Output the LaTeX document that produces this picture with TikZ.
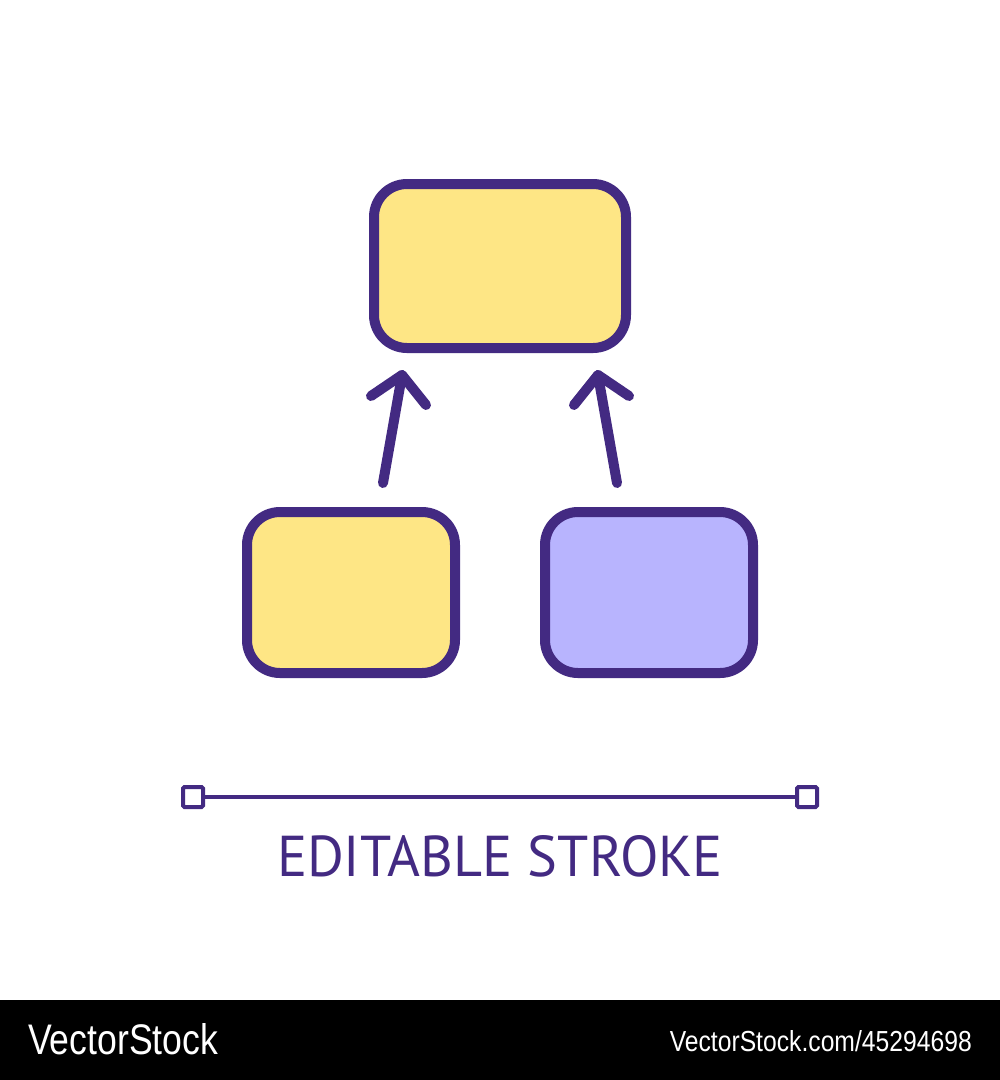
\documentclass[tikz,border=0pt]{standalone}
\usepackage{fontspec}
\setmainfont{PT Sans}
\newfontfamily\footfont{Liberation Sans}
\usetikzlibrary{calc}
\definecolor{ink}{HTML}{432A82}
\definecolor{sun}{HTML}{FEE685}
\definecolor{lav}{HTML}{B8B4FE}
\begin{document}
\begin{tikzpicture}[x=1pt,y=-1pt,
  block/.style={draw=ink,line width=10pt,rounded corners=33pt,inner sep=0pt},
  arrowline/.style={draw=ink,line width=10pt,line cap=round,line join=round},
  handle/.style={draw=ink,line width=4pt,rounded corners=1.5pt,minimum size=20pt,inner sep=0pt,fill=white},
  label/.style={text=ink,inner sep=0pt},
  foot/.style={text=white,inner sep=0pt,font=\footfont}]
\useasboundingbox (0,0) rectangle (1000,1080);
\fill[white] (0,0) rectangle (1000,1000);
\fill[black] (0,1000) rectangle (1000,1080);
% boxes
\node[block,fill=sun,minimum width=252pt,minimum height=164pt] (top) at (500,266) {};
\node[block,fill=sun,minimum width=208pt,minimum height=161pt] (left) at (351,592.5) {};
\node[block,fill=lav,minimum width=208pt,minimum height=161pt] (right) at (649,592.5) {};
% arrows
\coordinate (ls) at (383,483);
\coordinate (lt) at (402,375);
\coordinate (lw1) at (371,396);
\coordinate (lw2) at (426,405);
\coordinate (rs) at (617,483);
\coordinate (rt) at (598,375);
\coordinate (rw1) at (629,396);
\coordinate (rw2) at (574,405);
\draw[arrowline] (ls) -- (lt);
\draw[arrowline] (lw1) -- (lt) -- (lw2);
\draw[arrowline] (rs) -- (rt);
\draw[arrowline] (rw1) -- (rt) -- (rw2);
% editable stroke symbol
\node[handle] (h1) at (193,797) {};
\node[handle] (h2) at (807,797) {};
\draw[ink,line width=4pt] (h1) -- (h2);
\node[label,anchor=base] (txt) at (500,876) {\resizebox{446pt}{41pt}{EDITABLE STROKE}};
% footer
\node[foot,anchor=base west] (brand) at (28,1054) {\resizebox{190pt}{31pt}{VectorStock}};
\node[foot,anchor=base east] (url) at (972,1051) {\resizebox{302pt}{21pt}{VectorStock.com/45294698}};
\end{tikzpicture}
\end{document}
